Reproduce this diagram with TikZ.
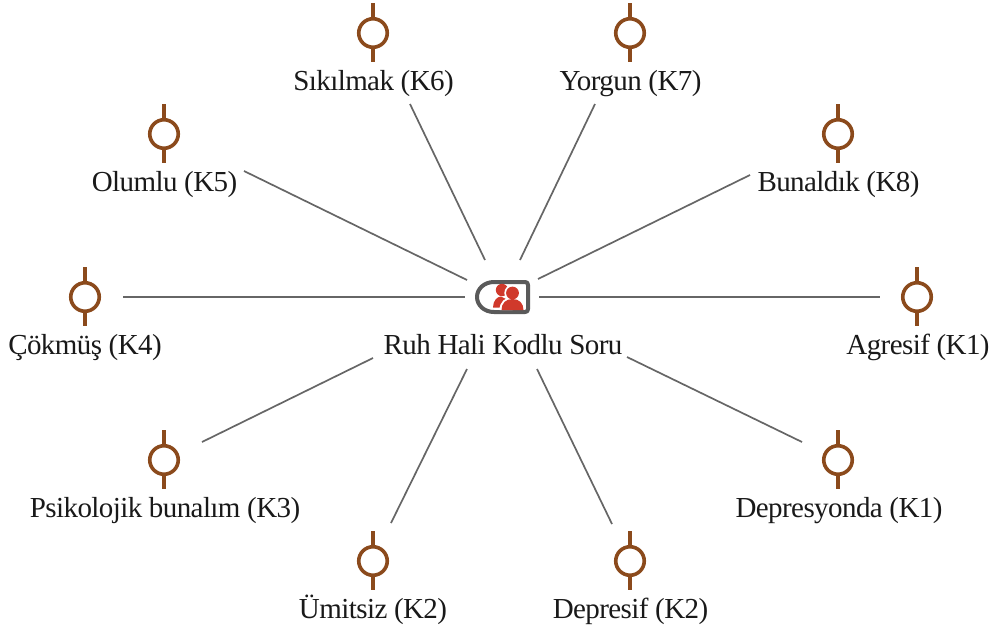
\documentclass[tikz,border=0pt]{standalone}
\usepackage{fontspec}
\setmainfont[LetterSpace=-2.0]{Liberation Serif}
\definecolor{brownc}{HTML}{8B4A1C}
\definecolor{linec}{HTML}{666666}
\definecolor{hubc}{HTML}{5A5A5A}
\definecolor{redc}{HTML}{D0392B}
\tikzset{
  lab/.style={inner sep=0pt,font=\fontsize{29}{31}\selectfont,text=black!90,anchor=base},
  spoke/.style={draw=linec,line width=1.7pt},
  ring/.style={circle,draw=brownc,line width=3.6pt,minimum size=28.5pt,inner sep=0pt,fill=white},
  stem/.style={draw=brownc,line width=3.6pt},
}
\newcommand{\leaf}[5]{% name, x, y, label x, text
  \draw[stem] (#2,#3-30) -- (#2,#3+29);
  \node[ring] (#1) at (#2,#3) {};
  \node[lab] (#1t) at (#4,#3+57) {#5};
}
\begin{document}
\begin{tikzpicture}[x=1pt,y=-1pt]
\useasboundingbox (0,0) rectangle (991,630);
\leaf{k6}{373}{33}{373.5}{Sıkılmak (K6)}
\leaf{k7}{630}{33}{630.5}{Yorgun (K7)}
\leaf{k5}{164}{134}{164.5}{Olumlu (K5)}
\leaf{k8}{838}{134}{838.5}{Bunaldık (K8)}
\leaf{k4}{85}{297}{85}{Çökmüş (K4)}
\leaf{k1}{917}{297}{918}{Agresif (K1)}
\leaf{k3}{164}{460}{165}{Psikolojik bunalım (K3)}
\leaf{k1b}{838}{460}{839}{Depresyonda (K1)}
\leaf{k2}{373}{561}{373}{Ümitsiz (K2)}
\leaf{k2b}{630}{561}{630.5}{Depresif (K2)}
\node[lab] (hubt) at (503,354) {Ruh Hali Kodlu Soru};
% spoke ends
\foreach \n/\ax/\ay/\bx/\by in {
  a/410/104/485/260, b/595/104/520/260, c/244/171/467/280, d/750/175/538/279,
  e/123/297/465/297, f/539/297/880/297, g/202/442/373/358, h/391/523/467/369,
  i/612/524/537/369, j/802/442/627/357}{
  \coordinate (\n1) at (\ax,\ay);
  \coordinate (\n2) at (\bx,\by);
  \draw[spoke] (\n1) -- (\n2);
}
% hub icon
\draw[hubc,line width=4pt,line join=round] (528,285) .. controls (528,283) and (527,282) .. (525,282)
  -- (494,282) .. controls (484,282) and (477,289) .. (477,297)
  .. controls (477,305) and (484,312) .. (494,312) -- (525,312)
  .. controls (527,312) and (528,311) .. (528,309) -- cycle;
% back figure
\fill[redc] (502,290) circle (6.2pt);
\fill[redc] (493,307.5) .. controls (493,301) and (497,296.5) .. (501,296.5)
  -- (508,300) -- (505,307.5) -- cycle;
% front figure with white halo
\fill[white] (512.5,293) circle (8.2pt);
\fill[white] (499.5,310) .. controls (499.5,302) and (505,297) .. (512.5,297) -- (512.5,310) -- cycle;
\fill[redc] (512.5,293) circle (6.4pt);
\fill[redc] (501.5,310) .. controls (501.5,303) and (506,299) .. (512.5,299)
  .. controls (519,299) and (523.5,303) .. (523.5,310) -- cycle;
\end{tikzpicture}
\end{document}
